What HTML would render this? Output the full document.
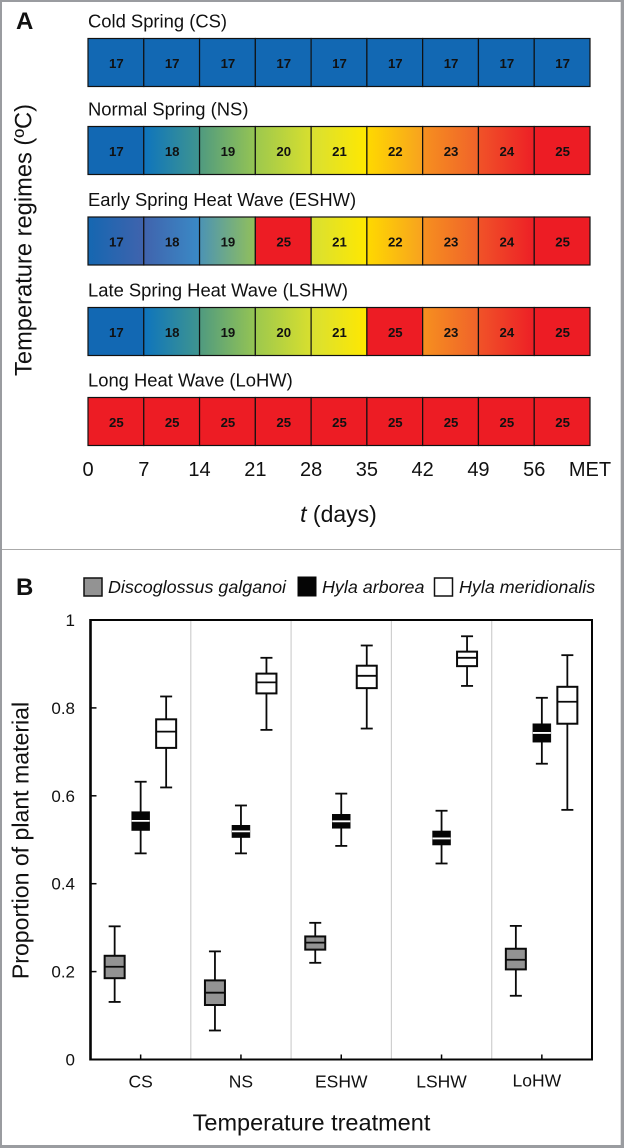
<!DOCTYPE html>
<html lang="en">
<head>
<meta charset="utf-8">
<title>Temperature regimes and proportion of plant material</title>
<style>
html,body{margin:0;padding:0;background:#fff;width:624px;height:1148px;overflow:hidden}
svg{display:block;font-family:"Liberation Sans",Arial,sans-serif}
text{fill:#111}
</style>
</head>
<body>
<svg id="fig" xmlns="http://www.w3.org/2000/svg" width="624" height="1148" viewBox="0 0 624 1148">
  <defs id="grads"></defs>
  <rect x="0" y="0" width="624" height="1148" fill="#9a9ca0"/>
  <rect x="2" y="2" width="618.7" height="1143" fill="#fff"/>
  <line x1="2" x2="621" y1="549.5" y2="549.5" stroke="#aaaaaa" stroke-width="1"/>
  <text x="16" y="29" font-size="24" font-weight="bold">A</text>
  <text x="16" y="595" font-size="24" font-weight="bold">B</text>
  <g id="panelA"></g>
  <text transform="translate(31.5,240) rotate(-90)" text-anchor="middle" font-size="23.7">Temperature regimes (ºC)</text>
  <text x="338.5" y="522" text-anchor="middle" font-size="23"><tspan font-style="italic">t</tspan> (days)</text>

  <g font-size="17.9" font-style="italic">
    <rect x="84" y="578" width="18" height="18" fill="#939393" stroke="#111" stroke-width="1.5"/>
    <text x="108" y="593">Discoglossus galganoi</text>
    <rect x="297.5" y="576.5" width="19" height="20" fill="#050505"/>
    <text x="322" y="593">Hyla arborea</text>
    <rect x="434.5" y="578" width="18" height="18" fill="#fff" stroke="#111" stroke-width="1.5"/>
    <text x="459" y="593">Hyla meridionalis</text>
  </g>
  <g id="panelB"></g>
  <text transform="translate(28.5,840.5) rotate(-90)" text-anchor="middle" font-size="23.1">Proportion of plant material</text>
  <text x="311.5" y="1130.5" text-anchor="middle" font-size="23.5">Temperature treatment</text>
</svg>
<script>
// ---- Panel A data ----
var regimeNames = ["Cold Spring (CS)", "Normal Spring (NS)", "Early Spring Heat Wave (ESHW)", "Late Spring Heat Wave (LSHW)", "Long Heat Wave (LoHW)"];
var regimeCS = [17, 17, 17, 17, 17, 17, 17, 17, 17];
var regimeNS = [17, 18, 19, 20, 21, 22, 23, 24, 25];
var regimeESHW = [17, 18, 19, 25, 21, 22, 23, 24, 25];
var regimeLSHW = [17, 18, 19, 20, 21, 25, 23, 24, 25];
var regimeLoHW = [25, 25, 25, 25, 25, 25, 25, 25, 25];
var dayTickLabels = ["0", "7", "14", "21", "28", "35", "42", "49", "56", "MET"];

// ---- Panel B data ----
var treatments = ["CS", "NS", "ESHW", "LSHW", "LoHW"];
var yTickValues = [0, 0.2, 0.4, 0.6, 0.8, 1];
var discoLow = [0.131, 0.066, 0.220, null, 0.145];
var discoQ1 = [0.185, 0.124, 0.250, null, 0.205];
var discoMedian = [0.211, 0.152, 0.266, null, 0.227];
var discoQ3 = [0.236, 0.180, 0.280, null, 0.252];
var discoHigh = [0.303, 0.246, 0.311, null, 0.304];
var arboreaLow = [0.469, 0.469, 0.486, 0.446, 0.673];
var arboreaQ1 = [0.521, 0.505, 0.526, 0.488, 0.722];
var arboreaMedian = [0.543, 0.519, 0.542, 0.503, 0.743];
var arboreaQ3 = [0.564, 0.533, 0.558, 0.520, 0.764];
var arboreaHigh = [0.632, 0.578, 0.605, 0.566, 0.823];
var meridLow = [0.619, 0.750, 0.753, 0.850, 0.568];
var meridQ1 = [0.709, 0.833, 0.845, 0.895, 0.764];
var meridMedian = [0.746, 0.858, 0.873, 0.914, 0.814];
var meridQ3 = [0.774, 0.878, 0.896, 0.928, 0.848];
var meridHigh = [0.826, 0.914, 0.942, 0.963, 0.920];

// ---- Layout and colour (not data) ----
var NS = "http://www.w3.org/2000/svg";
var panelA = document.getElementById("panelA");
var panelB = document.getElementById("panelB");
var defs = document.getElementById("grads");
var regimes = [regimeCS, regimeNS, regimeESHW, regimeLSHW, regimeLoHW];
var rowLayoutTops = [38.5, 126.5, 217, 307.5, 397.5];
var tempColors = {
  17: ["#1268b3", "#1268b3"], 18: ["#0e74bd", "#3f958f"], 19: ["#4f9a80", "#95c453"],
  20: ["#9cc84e", "#d8df2e"], 21: ["#d8e033", "#ffe800"], 22: ["#ffd900", "#f7a21f"],
  23: ["#f6901f", "#f0622a"], 24: ["#f05328", "#ed1f26"], 25: ["#ed1c24", "#ed1c24"]
};
var eshwColors = { 17: ["#1567b1", "#4063ad"], 18: ["#4063ad", "#3a8ac6"], 19: ["#4b93b5", "#92c05a"] };

function dayX(d) { return 88 + d * (502 / 63); }
function propY(v) { return 1059.5 - v * 439.5; }
function bandX(i) { return 90.5 + i * 100.3; }
function centerX(i) { return bandX(i) + 50.15; }

function shape(parent, tag, attrs) {
  var el = document.createElementNS(NS, tag);
  for (var k in attrs) { el.setAttribute(k, attrs[k]); }
  parent.appendChild(el);
  return el;
}

// ---- Draw panel A ----
regimes.forEach(function (values, r) {
  var top = rowLayoutTops[r];
  var title = shape(panelA, "text", { x: 88, y: top - 11, "font-size": 18.4 });
  
  
  title.textContent = regimeNames[r];
  values.forEach(function (t, i) {
    var x0 = dayX(i * 7), x1 = dayX((i + 1) * 7);
    var cols = (r === 2 && eshwColors[t]) ? eshwColors[t] : tempColors[t];
    var gid = "g" + r + "-" + i;
    var grad = shape(defs, "linearGradient", { id: gid, x1: 0, x2: 1, y1: 0, y2: 0 });
    shape(grad, "stop", { offset: 0, "stop-color": cols[0] });
    shape(grad, "stop", { offset: 1, "stop-color": cols[1] });
    var cell = shape(panelA, "rect", { x: x0, y: top, width: x1 - x0, height: 48, fill: "url(#" + gid + ")", stroke: "#111", "stroke-width": 1.2 });
    
    
    var label = shape(panelA, "text", { x: (x0 + x1) / 2 + 0.5, y: top + 29.5, "text-anchor": "middle", "font-size": 13.2, "font-weight": "bold" });
    
    
    label.textContent = t;
  });
});
dayTickLabels.forEach(function (lab, i) {
  var tick = shape(panelA, "text", { x: dayX(i * 7), y: 476, "text-anchor": "middle", "font-size": 20 });
  
  
  tick.textContent = lab;
});

// ---- Draw panel B ----
treatments.forEach(function (name, i) {
  if (i > 0) {
    var sep = shape(panelB, "line", { x1: bandX(i), x2: bandX(i), y1: propY(1), y2: propY(0), stroke: "#cfcfcf", "stroke-width": 1.2 });
    
    
  }
});
var frame = shape(panelB, "rect", { x: bandX(0), y: propY(1), width: 501.5, height: 439.5, fill: "none", stroke: "#050505", "stroke-width": 2 });


var leftAxis = shape(panelB, "line", { x1: bandX(0), x2: bandX(0), y1: propY(1) - 1, y2: propY(0) + 1, stroke: "#050505", "stroke-width": 2.6 });



yTickValues.forEach(function (v) {
  var y = propY(v);
  var mark = shape(panelB, "line", { x1: bandX(0), x2: bandX(0) + 6, y1: y, y2: y, stroke: "#050505", "stroke-width": 1.5 });
  
  
  var lab = shape(panelB, "text", { x: 75, y: y + 6, "text-anchor": "end", "font-size": 17 });
  
  
  lab.textContent = String(v);
});
treatments.forEach(function (name, i) {
  var x = centerX(i);
  var mark = shape(panelB, "line", { x1: x, x2: x, y1: propY(0), y2: propY(0) - 5, stroke: "#050505", "stroke-width": 1.5 });
  
  
  var lab = shape(panelB, "text", { x: i === 4 ? x - 5 : x, y: i === 4 ? 1086.5 : 1087.5, "text-anchor": "middle", "font-size": 17.5 });
  
  
  lab.textContent = name;
});

function drawBox(gx, low, q1, med, q3, high, fill, medStroke, boxW, lw) {
  var group = shape(panelB, "g", {});
  
  
  var whisker = shape(group, "line", { x1: gx, x2: gx, y1: propY(high), y2: propY(low), stroke: "#0a0a0a", "stroke-width": 1.8 });
  
  
  [high, low].forEach(function (v) {
    var cap = shape(group, "line", { x1: gx - 6, x2: gx + 6, y1: propY(v), y2: propY(v), stroke: "#0a0a0a", "stroke-width": 1.8 });
    
    
  });
  var box = shape(group, "rect", { x: gx - boxW / 2, y: propY(q3), width: boxW, height: propY(q1) - propY(q3), fill: fill, stroke: "#0a0a0a", "stroke-width": lw });
  
  
  var median = shape(group, "line", { x1: gx - boxW / 2, x2: gx + boxW / 2, y1: propY(med), y2: propY(med), stroke: medStroke, "stroke-width": 1.8 });
  
  
}

treatments.forEach(function (name, i) {
  var c = centerX(i);
  if (discoMedian[i] !== null) {
    drawBox(c - 26, discoLow[i], discoQ1[i], discoMedian[i], discoQ3[i], discoHigh[i], "#939393", "#0a0a0a", 20, 2);
  }
  drawBox(c, arboreaLow[i], arboreaQ1[i], arboreaMedian[i], arboreaQ3[i], arboreaHigh[i], "#050505", "#ffffff", 18, 0.5);
  drawBox(c + 25.5, meridLow[i], meridQ1[i], meridMedian[i], meridQ3[i], meridHigh[i], "#ffffff", "#0a0a0a", 20, 2);
});
</script>
</body>
</html>
